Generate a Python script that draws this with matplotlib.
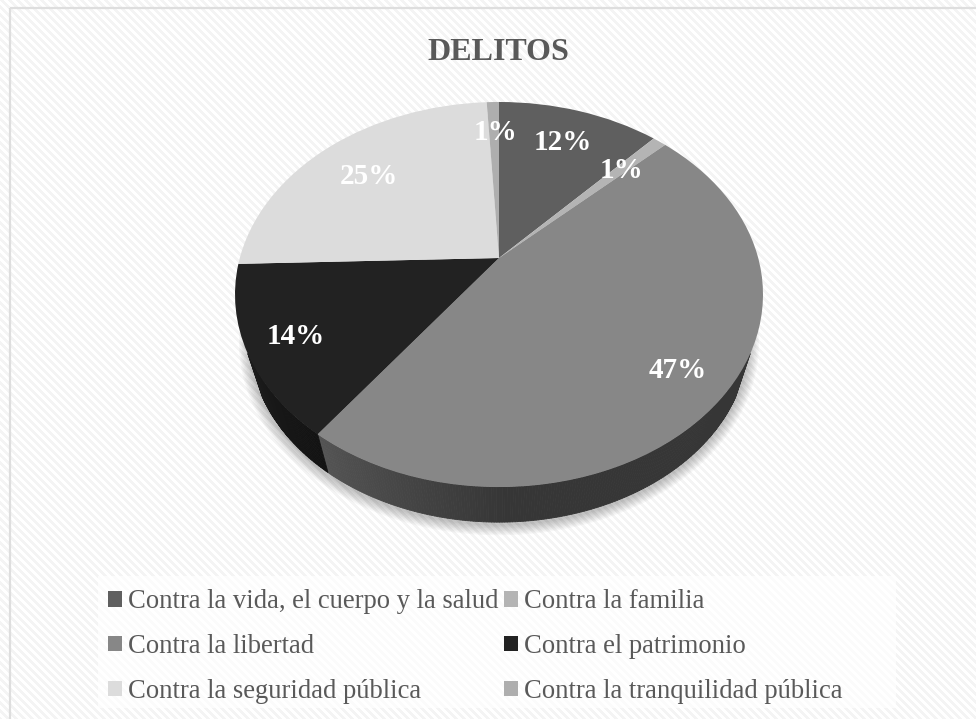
import numpy as np
import matplotlib
matplotlib.use("Agg")
import matplotlib.pyplot as plt
from matplotlib.collections import PolyCollection
from matplotlib.patches import Patch, Rectangle
from matplotlib.transforms import Transform

plt.rcParams['font.family'] = ['Liberation Serif', 'DejaVu Serif']

title = "DELITOS"
categories = ["Contra la vida, el cuerpo y la salud", "Contra la familia",
              "Contra la libertad", "Contra el patrimonio",
              "Contra la seguridad pública", "Contra la tranquilidad pública"]
values = [11.9, 1.0, 47.2, 14.4, 24.6, 0.9]
colors = ["#5f5f5f", "#b4b4b4", "#878787", "#222222", "#dcdcdc", "#aeaeae"]
label_xy = [(563, 143), (621, 171), (678, 371), (296, 337), (369, 176), (495, 133)]

# pie geometry in pixels
CX, CY = 499, 258
A, B, K = 259.2, 185.6, 0.1896
VP_Y = 1103       # vanishing point of the side wall
WALL_SCALE = 0.943


class Tilt(Transform):
    # perspective view of the unit circle
    input_dims = 2
    output_dims = 2
    is_separable = False
    has_inverse = False

    def transform_non_affine(self, xy):
        xy = np.asarray(xy, dtype=float)
        w = 1 + K * xy[:, 1]
        return np.column_stack([CX + A * xy[:, 0] / w, CY - B * xy[:, 1] / w])


def rim(deg):
    a = np.radians(deg)
    return Tilt().transform_non_affine(np.column_stack([np.sin(a), np.cos(a)]))


def lower(pts):
    out = pts.copy()
    out[:, 0] = CX + WALL_SCALE * (pts[:, 0] - CX)
    out[:, 1] = VP_Y + WALL_SCALE * (pts[:, 1] - VP_Y)
    return out


fig = plt.figure(figsize=(9.76, 7.19), dpi=100, facecolor="white")
ax = fig.add_axes([0, 0, 1, 1])

wedges, _ = ax.pie(values, colors=colors, startangle=90, counterclock=False,
                   wedgeprops={"linewidth": 0})
tilt = Tilt()
for w in wedges:
    w.set_transform(tilt + ax.transData)
    w.set_zorder(5)

ax.set_aspect("auto")
ax.set_xlim(0, 976)
ax.set_ylim(719, 0)
ax.axis("off")

# striped background
yy, xx = np.mgrid[0:719, 0:976]
stripes = ((xx - yy) % 8 < 4).astype(float)
ax.imshow(stripes, extent=(0, 976, 719, 0), cmap="gray_r", vmin=0, vmax=22,
          interpolation="bilinear", aspect="auto", zorder=0)
ax.add_patch(Rectangle((10, 8), 1100, 1000, fill=False, edgecolor="#dedede",
                       linewidth=1.6, zorder=1))

# soft shadow under the lower rim
edge = lower(rim(np.linspace(75, 285, 200)))
for lw in range(2, 18, 2):
    ax.plot(edge[:, 0], edge[:, 1] + 2, color="black", alpha=0.03, linewidth=lw,
            solid_capstyle="round", zorder=2)

# side wall, shaded along the arc
bounds = 360 * np.cumsum(values) / np.sum(values)
quads, shades = [], []
for start, end, base, tip in [(bounds[1], bounds[2], 0x36, 0x54),
                              (bounds[2], bounds[3], 0x12, 0x1c)]:
    first, last = max(start, 118), min(end, 242)
    steps = np.linspace(first, last, int(last - first) * 2 + 2)
    top = rim(steps)
    bottom = lower(top)
    for i in range(len(steps) - 1):
        quads.append([top[i], top[i + 1], bottom[i + 1], bottom[i]])
        if base == 0x36:
            t = np.clip((steps[i] - (end - 38)) / 38, 0, 1)
        else:
            t = np.clip((steps[i] - first) / (last - first), 0, 1)
        g = (base + (tip - base) * t) / 255
        shades.append((g, g, g))
ax.add_collection(PolyCollection(quads, facecolors=shades, edgecolors=shades,
                                 linewidths=0.6, zorder=3))

ax.text(498, 52, title, ha="center", va="center", fontsize=23,
        fontweight="bold", color="#595959", zorder=6)

for v, (x, y) in zip(values, label_xy):
    ax.text(x, y, f"{round(v)}%", ha="center", va="center", fontsize=21,
            fontweight="bold", color="white", zorder=6)

# panel behind the legend
ax.add_patch(Rectangle((98, 576), 798, 132, facecolor="white", edgecolor="none",
                       alpha=0.65, zorder=4))

# legend is filled column by column, rows read left to right
handles = [Patch(facecolor=c, edgecolor="none") for c in colors]
order = [0, 2, 4, 1, 3, 5]
leg = ax.legend([handles[i] for i in order], [categories[i] for i in order],
                ncol=2, loc="lower left", bbox_to_anchor=(108 / 976, 1 - 704 / 719),
                borderaxespad=0, borderpad=0, fontsize=19.2, labelcolor="#595959",
                frameon=False, handlelength=0.52, handleheight=0.52,
                handletextpad=0.235, columnspacing=0.2, labelspacing=0.746)
leg.set_zorder(6)

fig.savefig("out.png", dpi=100)
